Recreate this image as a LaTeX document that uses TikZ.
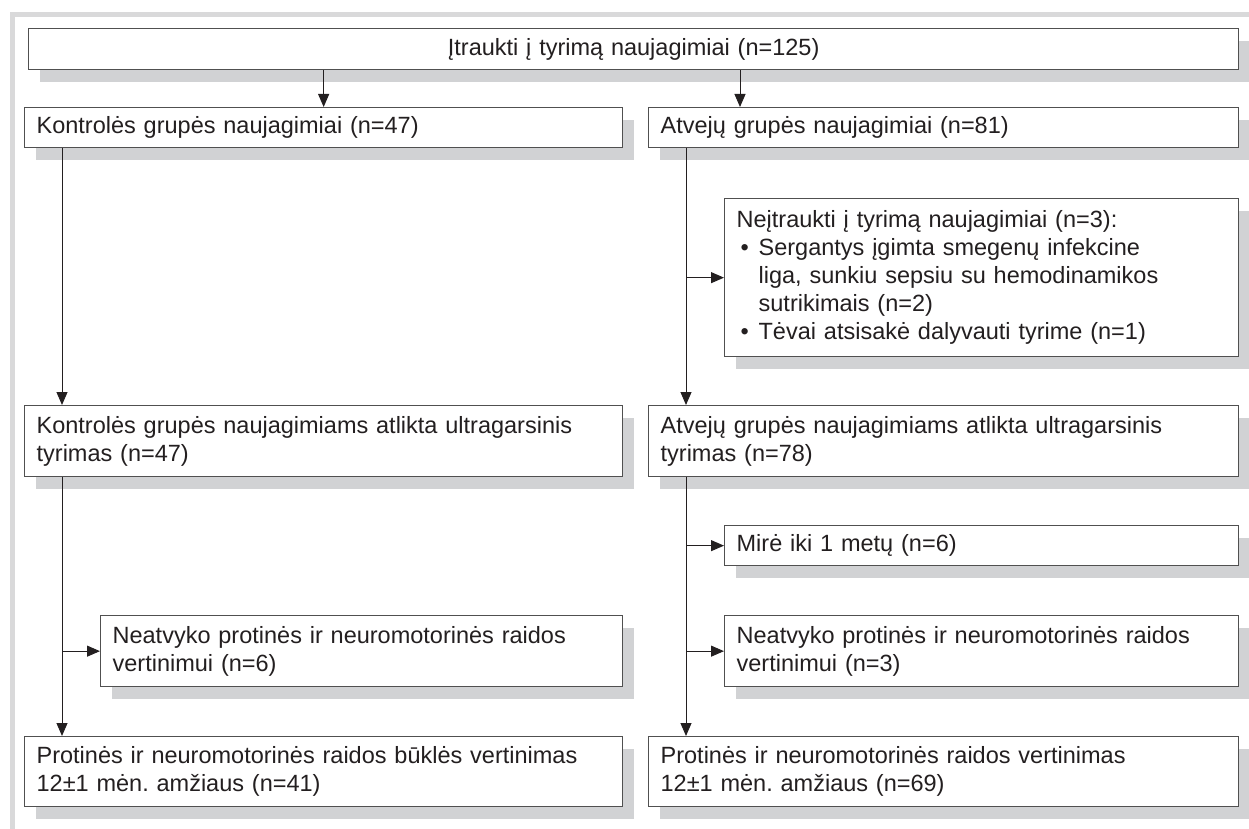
\documentclass[tikz,border=0pt]{standalone}
\usepackage{fontspec}
\setmainfont{Liberation Sans}
\usetikzlibrary{arrows.meta,shadows}
\definecolor{framegray}{HTML}{D9D9DA}
\definecolor{shadowgray}{HTML}{D1D2D4}
\definecolor{boxline}{HTML}{505050}
\definecolor{txt}{HTML}{231F20}
\frenchspacing

\begin{document}
\begin{tikzpicture}[
  x=0.5pt, y=-0.5pt,
  box/.style={draw=boxline,fill=white,line width=0.65pt,anchor=north west,
              inner xsep=6pt,inner ysep=0pt,align=left,text=txt,
              font=\fontsize{11.75}{14}\selectfont,
              drop shadow={shadow xshift=5.5pt,shadow yshift=-6pt,
                           fill=shadowgray,opacity=1}},
  lbox/.style={box,text width=287pt,minimum height=#1},
  rbox/.style={box,text width=283pt,minimum height=#1},
  sbox/.style={box,text width=245pt,minimum height=#1},
  arr/.style={-{Triangle[length=6.5pt,width=5.5pt]},line width=0.5pt,draw=txt}
]
\useasboundingbox (0,0) rectangle (1249,829);
\fill[framegray] (10,12) rectangle (1249,17);
\fill[framegray] (10,12) rectangle (15,829);

\node[box,text width=593pt,minimum height=20.5pt,align=center] (all) at (28,28)
  {Įtraukti į tyrimą naujagimiai (n=125)};
\node[lbox=20pt] (kontr) at (24,107) {Kontrolės grupės naujagimiai (n=47)};
\node[rbox=20pt] (atvej) at (648,107) {Atvejų grupės naujagimiai (n=81)};
\node[sbox=79pt] (neitr) at (724,198)
  {Neįtraukti į tyrimą naujagimiai (n=3):\\
   \makebox[11pt][l]{\hspace{2pt}•}Sergantys įgimta smegenų infekcine\\
   \hspace*{11pt}liga, sunkiu sepsiu su hemodinamikos\\
   \hspace*{11pt}sutrikimais (n=2)\\
   \makebox[11pt][l]{\hspace{2pt}•}Tėvai atsisakė dalyvauti tyrime (n=1)};
\node[lbox=35.5pt] (kontrus) at (24,405)
  {Kontrolės grupės naujagimiams atlikta ultragarsinis\\tyrimas (n=47)};
\node[rbox=35.5pt] (atvejus) at (648,405)
  {Atvejų grupės naujagimiams atlikta ultragarsinis\\tyrimas (n=78)};
\node[sbox=20pt] (mire) at (724,525) {Mirė iki 1 metų (n=6)};
\node[box,text width=249pt,minimum height=35.5pt] (neatL) at (100,615)
  {Neatvyko protinės ir neuromotorinės raidos\\vertinimui (n=6)};
\node[sbox=35.5pt] (neatR) at (724,615)
  {Neatvyko protinės ir neuromotorinės raidos\\vertinimui (n=3)};
\node[lbox=35pt] (vertL) at (24,736)
  {Protinės ir neuromotorinės raidos būklės vertinimas\\12±1 mėn. amžiaus (n=41)};
\node[rbox=35pt] (vertR) at (648,736)
  {Protinės ir neuromotorinės raidos vertinimas\\12±1 mėn. amžiaus (n=69)};

\coordinate (lx) at ([xshift=19pt]kontr.south west);
\coordinate (rx) at ([xshift=19pt]atvej.south west);
\coordinate (atin) at ([xshift=46pt]atvej.north west);

\draw[arr] (all.south -| kontr.north) -- (kontr.north);
\draw[arr] (all.south -| atin) -- (atin);

\draw[arr] (lx) -- (lx |- kontrus.north);
\draw[arr] ([xshift=19pt]kontrus.south west) -- ([xshift=19pt]vertL.north west);
\draw[arr] (lx |- neatL.west) -- (neatL.west);

\draw[arr] (rx) -- (rx |- atvejus.north);
\draw[arr] (rx |- neitr.west) -- (neitr.west);
\draw[arr] ([xshift=19pt]atvejus.south west) -- ([xshift=19pt]vertR.north west);
\draw[arr] (rx |- mire.west) -- (mire.west);
\draw[arr] (rx |- neatR.west) -- (neatR.west);
\end{tikzpicture}
\end{document}
